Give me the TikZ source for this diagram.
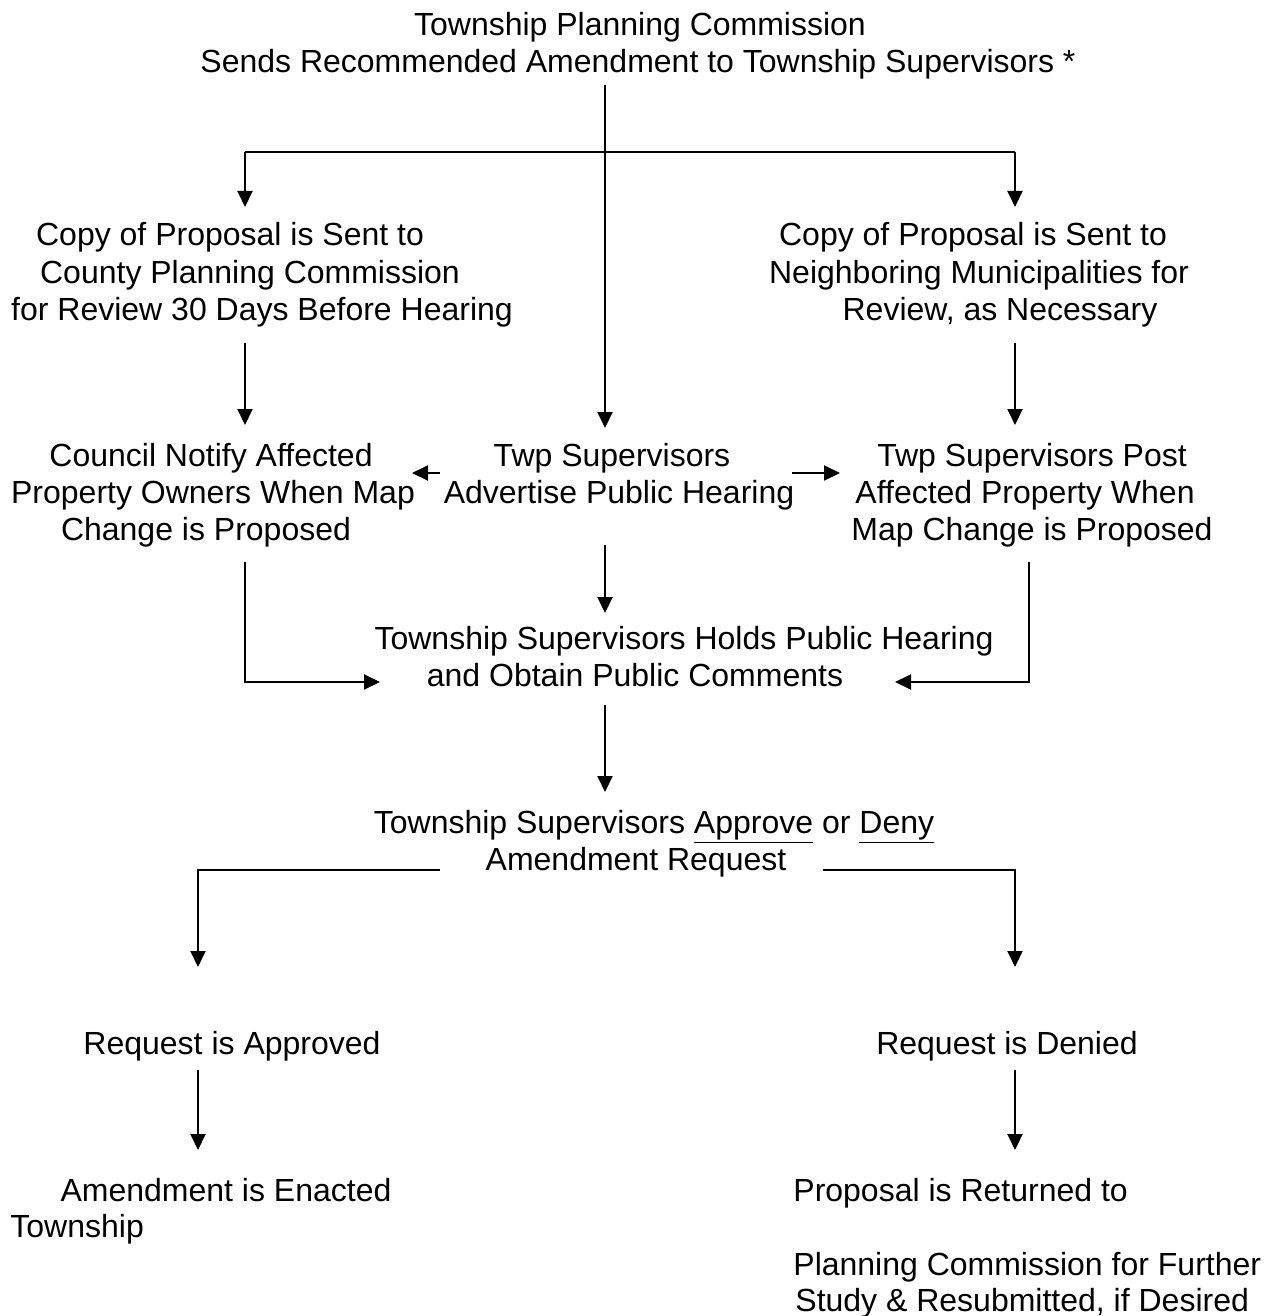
\documentclass[tikz,border=0pt]{standalone}
\usepackage{fontspec}
\setmainfont{Liberation Sans}
\usetikzlibrary{arrows.meta}
\begin{document}
\begin{tikzpicture}[x=0.5pt,y=-0.5pt,
  txt/.style={inner sep=0pt, anchor=base, font=\fontsize{16}{18.5}\selectfont},
  txtl/.style={txt, anchor=base west},
  conn/.style={line width=1pt},
  arr/.style={conn, -{Triangle[length=8pt,width=7.5pt]}}]
\useasboundingbox (0,0) rectangle (1274,1316);
% title
\node[txt] (ti1) at (640,36) {Township Planning Commission};
\node[txt] (ti2) at (638,73) {Sends Recommended Amendment to Township Supervisors *};
% row 1
\node[txt] (cl1) at (230,246) {Copy of Proposal is Sent to};
\node[txt] (cl2) at (250,283) {County Planning Commission};
\node[txt] (cl3) at (262,320) {for Review 30 Days Before Hearing};
\node[txt] (cr1) at (973,246) {Copy of Proposal is Sent to};
\node[txt] (cr2) at (979,283) {Neighboring Municipalities for};
\node[txt] (cr3) at (1000,320) {Review, as Necessary};
% row 2
\node[txt] (nl1) at (211,466) {Council Notify Affected};
\node[txt] (nl2) at (213,503) {Property Owners When Map};
\node[txt] (nl3) at (206,540) {Change is Proposed};
\node[txt] (am1) at (612,466) {Twp Supervisors};
\node[txt] (am2) at (619,503) {Advertise Public Hearing};
\node[txt] (pr1) at (1032,466) {Twp Supervisors Post};
\node[txt] (pr2) at (1025,503) {Affected Property When};
\node[txt] (pr3) at (1032,540) {Map Change is Proposed};
% row 3
\node[txt] (hh1) at (684,649) {Township Supervisors Holds Public Hearing};
\node[txt] (hh2) at (635,686) {and Obtain Public Comments};
% row 4
\node[txt] (ad1) at (654,833) {Township Supervisors \underline{Approve} or \underline{Deny}};
\node[txt] (ad2) at (636,870) {Amendment Request};
% row 5
\node[txt] (ra) at (232,1054) {Request is Approved};
\node[txt] (rd) at (1007,1054) {Request is Denied};
% row 6
\node[txt] (en1) at (226,1201) {Amendment is Enacted};
\node[txtl] (en2) at (10,1237) {Township};
\node[txtl] (rt1) at (793,1201) {Proposal is Returned to};
\node[txtl] (rt2) at (793,1275) {Planning Commission for Further};
\node[txtl] (rt3) at (795,1311) {Study \& Resubmitted, if Desired};
% connector points
\coordinate (t0) at (605,85);
\coordinate (t1) at (605,428);
\coordinate (hL) at (245,152);
\coordinate (hR) at (1015,152);
\coordinate (aL) at (245,207);
\coordinate (aR) at (1015,207);
\coordinate (b1Ls) at (245,343);
\coordinate (b1Le) at (245,425);
\coordinate (b1Rs) at (1015,343);
\coordinate (b1Re) at (1015,425);
\coordinate (lfS) at (440,473);
\coordinate (lfE) at (412,473);
\coordinate (rtS) at (792,473);
\coordinate (rtE) at (840,473);
\coordinate (m2s) at (605,545);
\coordinate (m2e) at (605,613);
\coordinate (lc0) at (245,562);
\coordinate (lc1) at (245,682);
\coordinate (lc2) at (380,682);
\coordinate (rc0) at (1029,562);
\coordinate (rc1) at (1029,682);
\coordinate (rc2) at (895,682);
\coordinate (m3s) at (605,705);
\coordinate (m3e) at (605,792);
\coordinate (dl0) at (440,870);
\coordinate (dl1) at (198,870);
\coordinate (dl2) at (198,967);
\coordinate (dr0) at (823,870);
\coordinate (dr1) at (1015,870);
\coordinate (dr2) at (1015,967);
\coordinate (e1s) at (198,1070);
\coordinate (e1e) at (198,1150);
\coordinate (e2s) at (1015,1070);
\coordinate (e2e) at (1015,1150);
% connectors
\draw[arr] (t0) -- (t1);
\draw[conn] (hL) -- (hR);
\draw[arr] (hL) -- (aL);
\draw[arr] (hR) -- (aR);
\draw[arr] (b1Ls) -- (b1Le);
\draw[arr] (b1Rs) -- (b1Re);
\draw[arr] (lfS) -- (lfE);
\draw[arr] (rtS) -- (rtE);
\draw[arr] (m2s) -- (m2e);
\draw[arr] (lc0) -- (lc1) -- (lc2);
\draw[arr] (rc0) -- (rc1) -- (rc2);
\draw[arr] (m3s) -- (m3e);
\draw[arr] (dl0) -- (dl1) -- (dl2);
\draw[arr] (dr0) -- (dr1) -- (dr2);
\draw[arr] (e1s) -- (e1e);
\draw[arr] (e2s) -- (e2e);
\end{tikzpicture}
\end{document}
